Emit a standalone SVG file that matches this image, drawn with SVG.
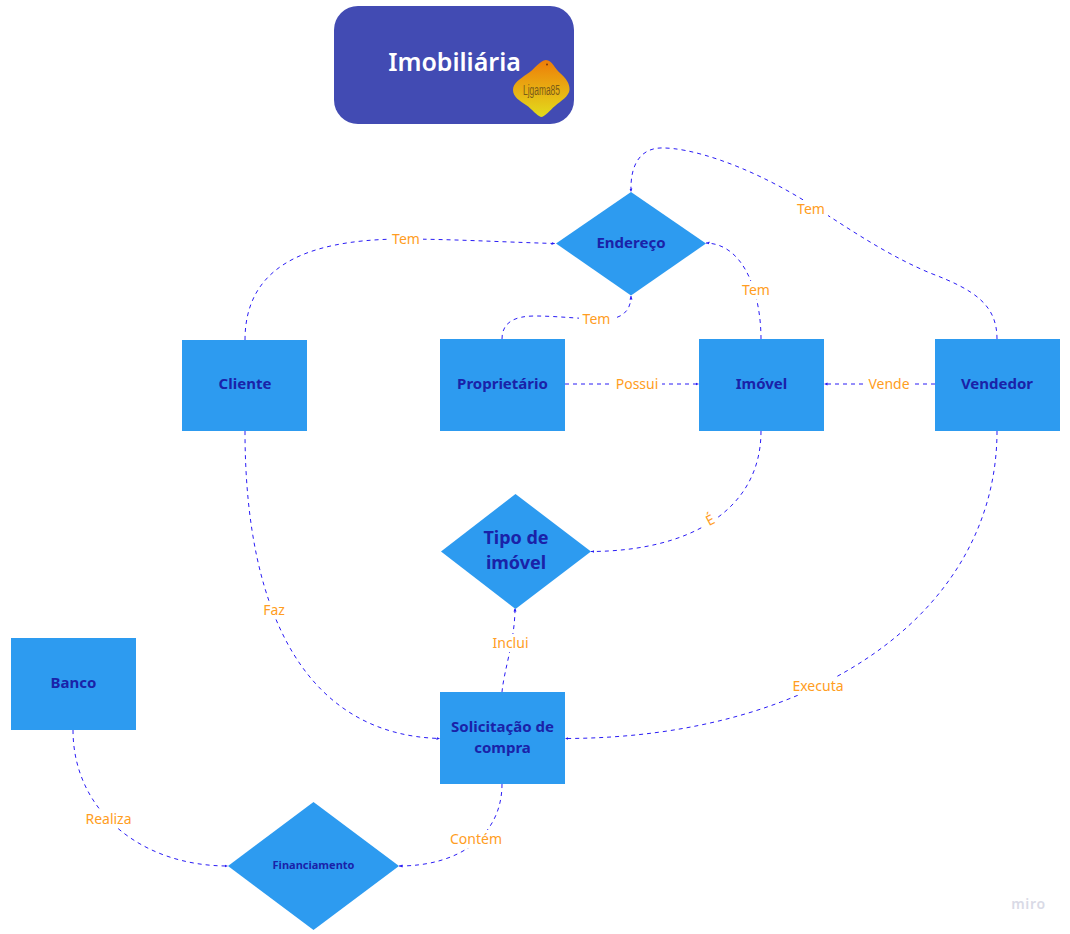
<svg xmlns="http://www.w3.org/2000/svg" width="1070" height="934" viewBox="0 0 1070 934">
<style>
text{font-family:"Noto Sans","Open Sans","Liberation Sans",sans-serif;text-anchor:middle}
.n{fill:#2d9bf0}
.t{fill:#1a22a8;font-weight:700;font-size:15px}
.l{fill:#ff9d22;font-size:14px}
.c{fill:none;stroke:#2a1cf5;stroke-width:1;stroke-dasharray:4 4}
.b{fill:#fff;stroke:none}
</style>
<defs>
<linearGradient id="g" x1="0" y1="0" x2="0" y2="1"><stop offset="0" stop-color="#ee7d08"/><stop offset="1" stop-color="#e2dc1c"/></linearGradient>
<marker id="a" markerWidth="4" markerHeight="4" refX="3.500" refY="2" orient="auto" markerUnits="userSpaceOnUse"><path d="M0 0.500L3.500 2L0 3.500z" fill="#2a1cf5"/></marker>
</defs>
<rect width="1070" height="934" fill="#fff"/>
<g id="connectors">
<path class="c" marker-end="url(#a)" d="M245 340C245 270 300 240 400 239C450 239 500 242 555 243.500"/>
<path class="c" marker-end="url(#a)" d="M502 339C502 322 515 316 535 316C560 316 590 320 610 319C625 317 631 308 631 296"/>
<path class="c" marker-end="url(#a)" d="M761 339C761 295 745 244 706 243"/>
<path class="c" marker-end="url(#a)" d="M997 339C997 305 975 290 930 273C880 252 840 222 800 198C745 165 690 147 660 148C640 149 630 165 631 192"/>
<path class="c" marker-end="url(#a)" d="M565 384H699"/>
<path class="c" marker-end="url(#a)" d="M935 384H824"/>
<path class="c" marker-end="url(#a)" d="M761 431C761 510 690 551 591 551.500"/>
<path class="c" marker-end="url(#a)" d="M245 431C245 620 310 735 440 738.500"/>
<path class="c" marker-end="url(#a)" d="M502 692C504 670 515 640 515 608"/>
<path class="c" marker-end="url(#a)" d="M997 431C997 610 820 738 565 738.500"/>
<path class="c" marker-end="url(#a)" d="M502 784C502 835 460 866 399 866"/>
<path class="c" marker-end="url(#a)" d="M73 730C73 810 140 866 228 866"/>
</g>
<g id="edge-labels">
<rect class="b" x="389" y="230" width="34" height="18"/><text class="l" x="406" y="244">Tem</text>
<rect class="b" x="579" y="310" width="35" height="18"/><text class="l" x="596.500" y="324">Tem</text>
<rect class="b" x="739" y="281" width="34" height="18"/><text class="l" x="756" y="295">Tem</text>
<rect class="b" x="794" y="200" width="34" height="18"/><text class="l" x="811" y="214">Tem</text>
<rect class="b" x="612" y="375" width="50" height="18"/><text class="l" x="637" y="389">Possui</text>
<rect class="b" x="865" y="375" width="48" height="18"/><text class="l" x="889" y="389">Vende</text>
<rect class="b" x="703" y="511" width="14" height="18"/><text class="l" x="710" y="525" transform="rotate(-28 710 520)">É</text>
<rect class="b" x="261" y="601" width="26" height="18"/><text class="l" x="274" y="615">Faz</text>
<rect class="b" x="490" y="634" width="41" height="18"/><text class="l" x="510.500" y="648">Inclui</text>
<rect class="b" x="789" y="677" width="57" height="18"/><text class="l" x="818" y="691">Executa</text>
<rect class="b" x="448" y="830" width="57" height="18"/><text class="l" x="476" y="844">Contém</text>
<rect class="b" x="83" y="810" width="52" height="18"/><text class="l" x="108.500" y="824">Realiza</text>
</g>
<g id="title">
<rect x="334" y="6" width="240" height="118" rx="24" fill="#424bb3"/>
<text x="454.500" y="71" fill="#fff" font-size="25" style="font-weight:600">Imobiliária</text>
</g>
<g id="logo">
<path d="M546 60C552 60 555 69 560 73C566 78 570 84 569.500 90C569 96 561 101 555 106C550 110 545 117 541 117C537 116 532 109 526 105C520 101 513 97 513 90C513 83 520 79 527 74C534 70 540 60 546 60Z" fill="url(#g)"/>
<circle cx="547" cy="64.500" r="1" fill="#7a3a10"/>
<text x="541.500" y="95" font-size="14" fill="#7a5a18" textLength="37" lengthAdjust="spacingAndGlyphs" style="font-family:'Liberation Sans',sans-serif">Ljgama85</text>
</g>
<g id="endereco"><polygon class="n" points="631,192 706,243.500 631,295.500 556,243.500"/><text class="t" x="631" y="248">Endereço</text></g>
<g id="cliente"><rect class="n" x="182" y="340" width="125" height="91"/><text class="t" x="245" y="389">Cliente</text></g>
<g id="proprietario"><rect class="n" x="440" y="339" width="125" height="92"/><text class="t" x="502.500" y="389">Proprietário</text></g>
<g id="imovel"><rect class="n" x="699" y="339" width="125" height="92"/><text class="t" x="761.500" y="389">Imóvel</text></g>
<g id="vendedor"><rect class="n" x="935" y="339" width="125" height="92"/><text class="t" x="997" y="389">Vendedor</text></g>
<g id="tipo"><polygon class="n" points="515.500,494 591,551.500 515.500,609 441,551.500"/><text class="t" style="font-size:18px" x="516" y="544">Tipo de</text><text class="t" style="font-size:18px" x="516" y="569">imóvel</text></g>
<g id="banco"><rect class="n" x="11" y="638" width="125" height="92"/><text class="t" x="73.500" y="687.500">Banco</text></g>
<g id="solicitacao"><rect class="n" x="440" y="692" width="125" height="92"/><text class="t" x="502.500" y="732">Solicitação de</text><text class="t" x="502.500" y="753">compra</text></g>
<g id="financiamento"><polygon class="n" points="313.500,802 399,866 313.500,930 228,866"/><text class="t" style="font-size:11px" x="313.500" y="869">Financiamento</text></g>
<text x="1028.500" y="909" font-size="14" fill="#d9dae6" letter-spacing="0.700" style="font-weight:600">miro</text>
</svg>
